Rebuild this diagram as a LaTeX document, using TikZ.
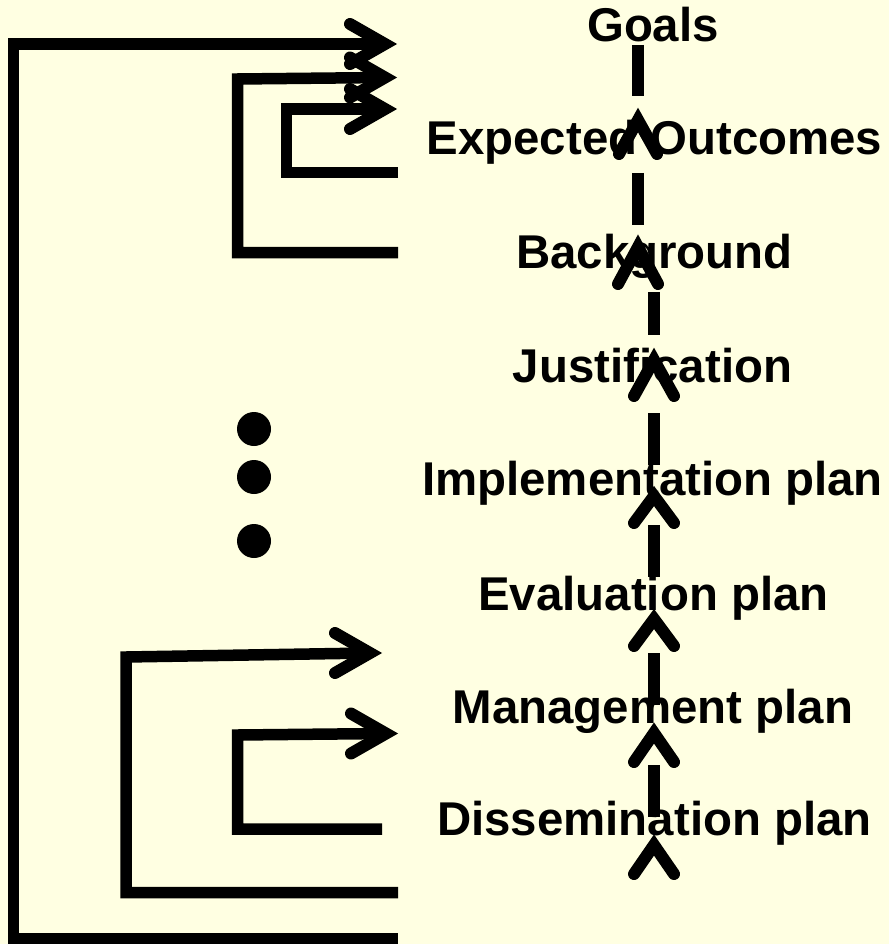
\documentclass[tikz,border=0pt]{standalone}
\usepackage{fontspec}
\setmainfont{Liberation Sans}
\definecolor{bgyellow}{RGB}{255,255,226}
\tikzset{
  lbl/.style={font=\fontsize{47.4}{56}\selectfont\bfseries, anchor=base, inner sep=0pt, text=black},
  wire/.style={line width=11.5pt, line join=miter},
  chev/.style={line width=12pt, line cap=round, line join=miter, miter limit=10},
  dashseg/.style={line width=11.5pt},
  dot/.style={circle, fill=black, minimum size=34pt, inner sep=0pt}
}
\newcommand\hchev[1]{\draw[chev, shift={(#1)}] (-35,-20) -- (0,0) -- (-35,20);}
\newcommand\vchev[4]{\draw[chev] ({#1-#4},#3) -- (#1,#2) -- ({#1+#4},#3);}
\begin{document}
\begin{tikzpicture}[x=1pt,y=-1pt]
\fill[bgyellow] (0,0) rectangle (889,944);
\useasboundingbox (0,0) rectangle (889,944);

% labels
\node[lbl] (goals) at (653,42) {Goals};
\node[lbl] (exp) at (654.5,155) {Expected Outcomes};
\node[lbl] (back) at (654.5,268) {Background};
\node[lbl] (just) at (652.5,382) {Justification};
\node[lbl] (impl) at (652.5,495) {Implementation plan};
\node[lbl] (eval) at (653.5,610) {Evaluation plan};
\node[lbl] (mgmt) at (653,723) {Management plan};
\node[lbl] (diss) at (654.5,835) {Dissemination plan};

% dots
\node[dot] (d1) at (254,429) {};
\node[dot] (d2) at (254,477) {};
\node[dot] (d3) at (254,541) {};

% arrow vertices on the left loops
\coordinate (t1) at (385,44);
\coordinate (t2) at (385,77.5);
\coordinate (t3) at (385,109);
\coordinate (ta) at (370,653);
\coordinate (tb) at (386,733.5);
% loop starts
\coordinate (s1) at (398,939);
\coordinate (s2) at (398,252.5);
\coordinate (s3) at (398,172.5);
\coordinate (sa) at (398,892.5);
\coordinate (sb) at (382,829);

\draw[wire] (s1) -- (13.5,939) -- (13.5,44) -- (t1);
\draw[wire] (s2) -- (237.5,252.5) -- (237.5,79) -- (t2);
\draw[wire] (s3) -- (286.5,172.5) -- (286.5,109) -- (t3);
\draw[wire] (sa) -- (126,892.5) -- (126,657) -- (ta);
\draw[wire] (sb) -- (237.5,829) -- (237.5,735) -- (tb);

\hchev{t1}
\hchev{t2}
\hchev{t3}
\hchev{ta}
\hchev{tb}

% central dashed chain
\draw[dashseg] (638,45) -- (638,96);
\draw[dashseg] (638,173) -- (638,225);
\draw[dashseg] (654,292) -- (654,335);
\draw[dashseg] (654,413) -- (654,465);
\draw[dashseg] (654,525) -- (654,577);
\draw[dashseg] (654,653) -- (654,705);
\draw[dashseg] (654,765) -- (654,817);

\vchev{638}{120}{154}{19}
\vchev{638}{247}{284}{20}
\vchev{654}{360}{396}{20}
\vchev{654}{496}{523}{20}
\vchev{654}{619}{646}{20}
\vchev{654}{733}{762}{20}
\vchev{654}{845}{874}{20}
\end{tikzpicture}
\end{document}
